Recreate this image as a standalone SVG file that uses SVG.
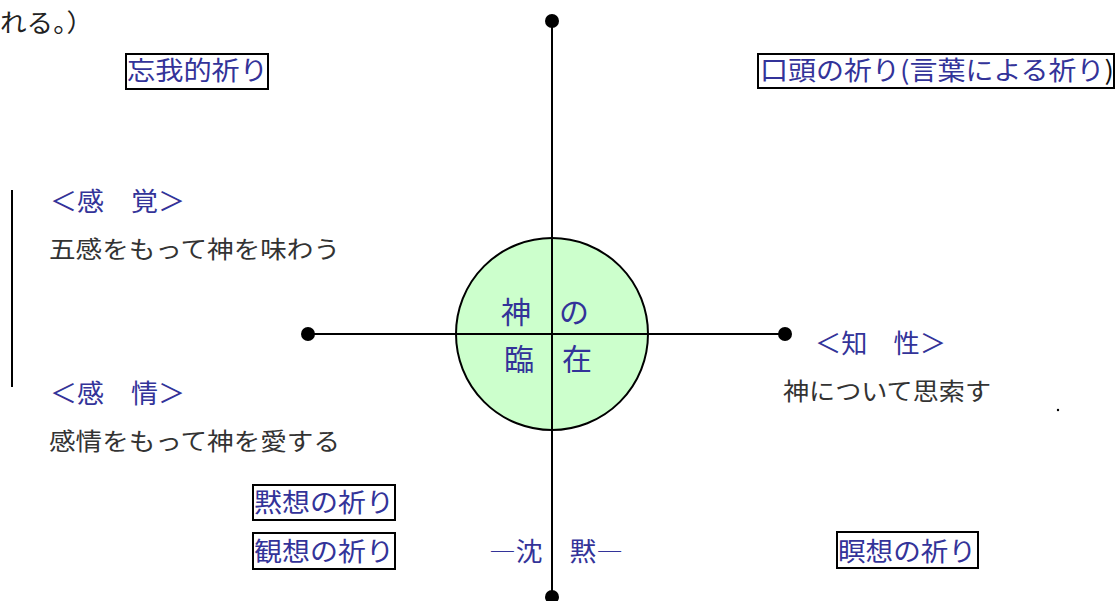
<svg xmlns="http://www.w3.org/2000/svg" width="1117" height="601" viewBox="0 0 1117 601">
<style>
.t{font-family:"Noto Sans CJK JP","Noto Sans",sans-serif;}
.b{fill:#333399;font-size:26px;}
.c{font-size:30px;}
.g{fill:#333333;font-size:24px;}
.box{fill:#ffffff;stroke:#000000;stroke-width:2;}
.ln{stroke:#000000;stroke-width:2;fill:none;}
.dot{fill:#000000;}
</style>
<rect width="1117" height="601" fill="#ffffff"/>
<g id="connectors">
<line class="ln" x1="552" y1="21" x2="552" y2="597"/>
<line class="ln" x1="308" y1="334" x2="785" y2="334"/>
<line class="ln" x1="12" y1="190" x2="12" y2="387"/>
<circle class="dot" cx="552" cy="21" r="7"/>
<circle class="dot" cx="552" cy="597" r="7"/>
<circle class="dot" cx="308" cy="334" r="7"/>
<circle class="dot" cx="785" cy="334" r="7"/>
</g>
<g id="center">
<circle cx="552" cy="334" r="96" fill="#ccffcc" stroke="#000000" stroke-width="2"/>
<line class="ln" x1="552" y1="238" x2="552" y2="430"/>
<line class="ln" x1="456" y1="334" x2="648" y2="334"/>
<text class="t b c" x="501" y="323">神</text>
<text class="t b c" x="559" y="323">の</text>
<text class="t b c" x="504" y="370">臨</text>
<text class="t b c" x="562" y="370">在</text>
</g>
<g id="top-note">
<text class="t" x="0" y="32" font-size="25" fill="#222222" textLength="93" lengthAdjust="spacingAndGlyphs">れる。）</text>
</g>
<g id="bouga">
<rect class="box" x="126" y="54" width="142" height="35"/>
<text class="t b" x="127" y="80" textLength="141" lengthAdjust="spacingAndGlyphs">忘我的祈り</text>
</g>
<g id="koutou">
<rect class="box" x="758" y="54" width="356" height="34"/>
<text class="t b" x="760" y="80" textLength="354" lengthAdjust="spacingAndGlyphs">口頭の祈り(言葉による祈り<tspan fill="#111111">)</tspan></text>
</g>
<g id="kankaku">
<text class="t b" x="50" y="211" textLength="135" lengthAdjust="spacingAndGlyphs">＜感　覚＞</text>
<text class="t g" x="49" y="258" textLength="291" lengthAdjust="spacingAndGlyphs">五感をもって神を味わう</text>
</g>
<g id="kanjou">
<text class="t b" x="50" y="403" textLength="135" lengthAdjust="spacingAndGlyphs">＜感　情＞</text>
<text class="t g" x="49" y="450" textLength="291" lengthAdjust="spacingAndGlyphs">感情をもって神を愛する</text>
</g>
<g id="chisei">
<text class="t b" x="815" y="353" textLength="131" lengthAdjust="spacingAndGlyphs">＜知　性＞</text>
<text class="t g" x="783" y="400" textLength="208" lengthAdjust="spacingAndGlyphs">神について思索す</text>
<circle cx="1058" cy="410" r="1.2" fill="#000000"/>
</g>
<g id="mokusou">
<rect class="box" x="253" y="485" width="142" height="35"/>
<text class="t b" x="254" y="512" textLength="140" lengthAdjust="spacingAndGlyphs">黙想の祈り</text>
</g>
<g id="kansou">
<rect class="box" x="253" y="533" width="142" height="36"/>
<text class="t b" x="254" y="561" textLength="140" lengthAdjust="spacingAndGlyphs">観想の祈り</text>
</g>
<g id="chinmoku">
<text class="t b" x="489" y="561" textLength="134" lengthAdjust="spacingAndGlyphs">―沈　黙―</text>
</g>
<g id="meisou">
<rect class="box" x="837" y="532" width="141" height="36"/>
<text class="t b" x="838" y="561" textLength="138" lengthAdjust="spacingAndGlyphs">瞑想の祈り</text>
</g>
</svg>
